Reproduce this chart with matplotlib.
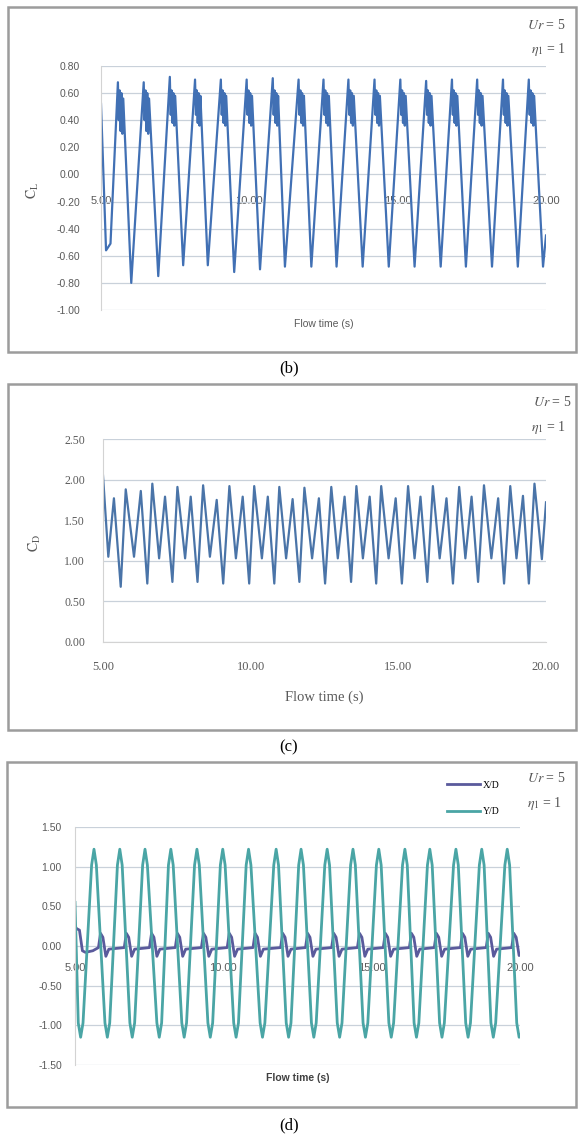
import numpy as np
import matplotlib.pyplot as plt
from matplotlib.patches import Rectangle

plt.rcParams['axes.unicode_minus'] = False
plt.rcParams['mathtext.fontset'] = 'stix'

# ---- (b) lift coefficient: turning points ----
cl_t = [5.00, 5.17, 5.32,
        5.57, 5.60, 5.63, 5.66, 5.69, 5.72, 5.75, 6.02,
        6.44, 6.47, 6.50, 6.53, 6.56, 6.59, 6.62, 6.93,
        7.32, 7.35, 7.38, 7.41, 7.44, 7.47, 7.50, 7.77,
        8.17, 8.20, 8.23, 8.26, 8.29, 8.32, 8.35, 8.60,
        9.04, 9.07, 9.10, 9.13, 9.16, 9.19, 9.22, 9.49,
        9.91, 9.94, 9.97, 10.00, 10.03, 10.06, 10.09, 10.36,
        10.79, 10.82, 10.85, 10.88, 10.91, 10.94, 10.97, 11.20,
        11.66, 11.69, 11.72, 11.75, 11.78, 11.81, 11.84, 12.09,
        12.50, 12.53, 12.56, 12.59, 12.62, 12.65, 12.68, 12.94,
        13.34, 13.37, 13.40, 13.43, 13.46, 13.49, 13.52, 13.82,
        14.22, 14.25, 14.28, 14.31, 14.34, 14.37, 14.40, 14.70,
        15.09, 15.12, 15.15, 15.18, 15.21, 15.24, 15.27, 15.57,
        15.96, 15.99, 16.02, 16.05, 16.08, 16.11, 16.14, 16.45,
        16.83, 16.86, 16.89, 16.92, 16.95, 16.98, 17.01, 17.30,
        17.68, 17.71, 17.74, 17.77, 17.80, 17.83, 17.86, 18.18,
        18.55, 18.58, 18.61, 18.64, 18.67, 18.70, 18.73, 19.05,
        19.42, 19.45, 19.48, 19.51, 19.54, 19.57, 19.60, 19.90,
        20.00]
cl_v = [0.52, -0.56, -0.51,
        0.68, 0.40, 0.62, 0.32, 0.60, 0.30, 0.56, -0.80,
        0.68, 0.40, 0.62, 0.32, 0.60, 0.30, 0.56, -0.75,
        0.72, 0.44, 0.62, 0.38, 0.60, 0.36, 0.58, -0.67,
        0.70, 0.44, 0.62, 0.38, 0.60, 0.36, 0.58, -0.67,
        0.70, 0.44, 0.62, 0.38, 0.60, 0.36, 0.58, -0.72,
        0.70, 0.44, 0.62, 0.38, 0.60, 0.36, 0.58, -0.70,
        0.71, 0.44, 0.62, 0.38, 0.60, 0.36, 0.58, -0.68,
        0.70, 0.44, 0.62, 0.38, 0.60, 0.36, 0.58, -0.68,
        0.70, 0.44, 0.62, 0.38, 0.60, 0.36, 0.58, -0.68,
        0.70, 0.44, 0.62, 0.38, 0.60, 0.36, 0.58, -0.68,
        0.70, 0.44, 0.62, 0.38, 0.60, 0.36, 0.58, -0.68,
        0.70, 0.44, 0.62, 0.38, 0.60, 0.36, 0.58, -0.68,
        0.69, 0.44, 0.62, 0.38, 0.60, 0.36, 0.58, -0.68,
        0.70, 0.44, 0.62, 0.38, 0.60, 0.36, 0.58, -0.68,
        0.70, 0.44, 0.62, 0.38, 0.60, 0.36, 0.58, -0.68,
        0.70, 0.44, 0.62, 0.38, 0.60, 0.36, 0.58, -0.68,
        0.70, 0.44, 0.62, 0.38, 0.60, 0.36, 0.58, -0.68,
        -0.45]

# ---- (c) drag coefficient ----
cd_t = [5.00, 5.18, 5.37, 5.60, 5.77, 6.05, 6.28, 6.50, 6.67, 6.90,
        7.10, 7.35, 7.52, 7.78, 7.97, 8.20, 8.39, 8.62, 8.85, 9.07,
        9.28, 9.50, 9.73, 9.95, 10.12, 10.38, 10.58, 10.80, 10.97, 11.20,
        11.42, 11.65, 11.82, 12.08, 12.31, 12.52, 12.73, 12.95, 13.18, 13.40,
        13.58, 13.80, 14.03, 14.25, 14.42, 14.67, 14.91, 15.12, 15.33, 15.55,
        15.75, 15.98, 16.17, 16.40, 16.63, 16.85, 17.06, 17.27, 17.48, 17.70,
        17.90, 18.15, 18.38, 18.58, 18.79, 19.00, 19.22, 19.42, 19.61, 19.86,
        20.00]
cd_v = [2.05, 1.05, 1.77, 0.68, 1.88, 1.05, 1.86, 0.72, 1.95, 1.03,
        1.79, 0.74, 1.91, 1.03, 1.79, 0.74, 1.93, 1.05, 1.75, 0.72,
        1.92, 1.03, 1.79, 0.72, 1.92, 1.03, 1.79, 0.72, 1.91, 1.03,
        1.76, 0.74, 1.90, 1.03, 1.77, 0.72, 1.91, 1.03, 1.79, 0.74,
        1.92, 1.03, 1.79, 0.72, 1.92, 1.03, 1.77, 0.72, 1.92, 1.03,
        1.79, 0.74, 1.92, 1.03, 1.77, 0.72, 1.91, 1.03, 1.79, 0.74,
        1.93, 1.03, 1.77, 0.72, 1.92, 1.03, 1.80, 0.72, 1.95, 1.02,
        1.72]

# ---- (d) displacements ----
yd_t = [5.00, 5.11, 5.19, 5.27, 5.56, 5.64, 5.72, 6.01, 6.09, 6.17,
        6.43, 6.51, 6.59, 6.85, 6.93, 7.01, 7.28, 7.36, 7.44, 7.76,
        7.84, 7.92, 8.15, 8.23, 8.31, 8.60, 8.68, 8.76, 9.03, 9.11,
        9.19, 9.48, 9.56, 9.64, 9.90, 9.98, 10.06, 10.35, 10.43, 10.51,
        10.77, 10.85, 10.93, 11.24, 11.32, 11.40, 11.70, 11.78, 11.86, 12.12,
        12.20, 12.28, 12.54, 12.62, 12.70, 12.97, 13.05, 13.13, 13.42, 13.50,
        13.58, 13.84, 13.92, 14.00, 14.29, 14.37, 14.45, 14.71, 14.79, 14.87,
        15.16, 15.24, 15.32, 15.58, 15.66, 15.74, 16.04, 16.12, 16.20, 16.43,
        16.51, 16.59, 16.88, 16.96, 17.04, 17.29, 17.37, 17.45, 17.76, 17.84,
        17.92, 18.17, 18.25, 18.33, 18.63, 18.71, 18.79, 19.02, 19.10, 19.18,
        19.49, 19.57, 19.65, 19.89, 19.97, 20.00]
yd_v = [0.55, -0.97, -1.15, -0.97, 1.02, 1.22, 1.02, -0.97, -1.15, -0.97,
        1.02, 1.22, 1.02, -0.97, -1.15, -0.97, 1.02, 1.22, 1.02, -0.97,
        -1.15, -0.97, 1.02, 1.22, 1.02, -0.97, -1.15, -0.97, 1.02, 1.22,
        1.02, -0.97, -1.15, -0.97, 1.02, 1.22, 1.02, -0.97, -1.15, -0.97,
        1.02, 1.22, 1.02, -0.97, -1.15, -0.97, 1.02, 1.22, 1.02, -0.97,
        -1.15, -0.97, 1.02, 1.22, 1.02, -0.97, -1.15, -0.97, 1.02, 1.22,
        1.02, -0.97, -1.15, -0.97, 1.02, 1.22, 1.02, -0.97, -1.15, -0.97,
        1.02, 1.22, 1.02, -0.97, -1.15, -0.97, 1.02, 1.22, 1.02, -0.97,
        -1.15, -0.97, 1.02, 1.22, 1.02, -0.97, -1.15, -0.97, 1.02, 1.22,
        1.02, -0.97, -1.15, -0.97, 1.02, 1.22, 1.02, -0.97, -1.15, -0.97,
        1.02, 1.22, 1.02, -0.97, -1.15, -1.13]

xd_t = [5.00, 5.05, 5.15, 5.25, 5.35, 5.60,
        5.79, 5.86, 5.94, 6.04, 6.14,
        6.66, 6.73, 6.81, 6.91, 7.01,
        7.51, 7.58, 7.66, 7.76, 7.86,
        8.38, 8.45, 8.53, 8.63, 8.73,
        9.26, 9.33, 9.41, 9.51, 9.61,
        10.13, 10.20, 10.28, 10.38, 10.48,
        11.00, 11.07, 11.15, 11.25, 11.35,
        11.93, 12.00, 12.08, 12.18, 12.28,
        12.77, 12.84, 12.92, 13.02, 13.12,
        13.65, 13.72, 13.80, 13.90, 14.00,
        14.52, 14.59, 14.67, 14.77, 14.87,
        15.39, 15.46, 15.54, 15.64, 15.74,
        16.27, 16.34, 16.42, 16.52, 16.62,
        17.11, 17.18, 17.26, 17.36, 17.46,
        17.99, 18.06, 18.14, 18.24, 18.34,
        18.86, 18.93, 19.01, 19.11, 19.21,
        19.72, 19.79, 19.87, 19.97, 20.00]
xd_v = [0.25, 0.22, 0.20, -0.06, -0.08, -0.06,
        -0.02, 0.16, 0.11, -0.13, -0.04,
        -0.02, 0.16, 0.11, -0.13, -0.04,
        -0.02, 0.16, 0.11, -0.13, -0.04,
        -0.02, 0.16, 0.11, -0.13, -0.04,
        -0.02, 0.16, 0.11, -0.13, -0.04,
        -0.02, 0.16, 0.11, -0.13, -0.04,
        -0.02, 0.16, 0.11, -0.13, -0.04,
        -0.02, 0.16, 0.11, -0.13, -0.04,
        -0.02, 0.16, 0.11, -0.13, -0.04,
        -0.02, 0.16, 0.11, -0.13, -0.04,
        -0.02, 0.16, 0.11, -0.13, -0.04,
        -0.02, 0.16, 0.11, -0.13, -0.04,
        -0.02, 0.16, 0.11, -0.13, -0.04,
        -0.02, 0.16, 0.11, -0.13, -0.04,
        -0.02, 0.16, 0.11, -0.13, -0.04,
        -0.02, 0.16, 0.11, -0.13, -0.04,
        -0.02, 0.16, 0.11, -0.12, -0.10]

x_ticks = [5, 10, 15, 20]
x_labels = ['5.00', '10.00', '15.00', '20.00']
b_yticks = [0.8, 0.6, 0.4, 0.2, 0.0, -0.2, -0.4, -0.6, -0.8, -1.0]
c_yticks = [2.5, 2.0, 1.5, 1.0, 0.5, 0.0]
d_yticks = [1.5, 1.0, 0.5, 0.0, -0.5, -1.0, -1.5]

W, H = 578, 1137


def box(x0, y0, x1, y1):
    return [x0 / W, 1 - y1 / H, (x1 - x0) / W, (y1 - y0) / H]


def frame(x0, y0, x1, y1):
    fig.add_artist(Rectangle((x0 / W, 1 - y1 / H), (x1 - x0) / W, (y1 - y0) / H,
                             transform=fig.transFigure, fill=False,
                             ec='#9c9c9c', lw=1.8))


def style(ax, yticks, family, size, ypad, xpad, zero_axis):
    # moving the spine resets the ticks, so do it first
    if zero_axis:
        ax.spines['bottom'].set_position(('data', 0))
        ax.spines['bottom'].set_visible(False)
    else:
        ax.spines['bottom'].set_color('#d3d3d3')
    ax.set_xlim(5, 20)
    ax.set_xticks(x_ticks)
    ax.set_xticklabels(x_labels, family=family, fontsize=size + 0.5)
    ax.set_yticks(yticks)
    ax.set_yticklabels(['%.2f' % v for v in yticks], family=family, fontsize=size)
    ax.grid(axis='y', color='#c9d1da', lw=0.9)
    ax.set_axisbelow(True)
    for s in ['top', 'right']:
        ax.spines[s].set_visible(False)
    ax.spines['left'].set_color('#d3d3d3')
    ax.tick_params(length=0, labelcolor='#5a5a5a')
    ax.tick_params(axis='y', pad=ypad)
    ax.tick_params(axis='x', pad=xpad)


fig = plt.figure(figsize=(W / 100, H / 100), dpi=100)

# ---------------- (b) ----------------
frame(8, 7, 576, 352)
ax1 = fig.add_axes(box(101, 66, 546, 310))
ax1.plot(cl_t, cl_v, color='#4170b4', lw=1.6)
ax1.set_ylim(-1.0, 0.8)
style(ax1, b_yticks, 'Liberation Sans', 7.5, 15, 15.5, True)
ax1.set_xlabel('Flow time (s)', fontsize=7.5, family='Liberation Sans', color='#5a5a5a')
ax1.xaxis.set_label_coords(0.5, -0.035)
fig.text(33 / W, 1 - 190 / H, r'$\mathrm{C_L}$', rotation=90, ha='center', va='center',
         fontsize=10, color='#5a5a5a')
fig.text(566 / W, 1 - 25 / H, r'$Ur$ = 5', ha='right', va='center',
         family='Liberation Serif', fontsize=10, color='#555555')
fig.text(566 / W, 1 - 49 / H, r'$\eta_1$ = 1', ha='right', va='center',
         family='Liberation Serif', fontsize=10, color='#555555')
fig.text(289 / W, 1 - 368 / H, '(b)', ha='center', va='center',
         family='Liberation Serif', fontsize=12)

# ---------------- (c) ----------------
frame(8, 384, 576, 730)
ax2 = fig.add_axes(box(103, 439, 546, 642))
ax2.plot(cd_t, cd_v, color='#4a74a8', lw=1.6)
ax2.set_ylim(0, 2.5)
style(ax2, c_yticks, 'Liberation Serif', 8.5, 13, 13.5, False)
ax2.set_xlabel('Flow time (s)', fontsize=10.5, family='Liberation Serif', color='#5a5a5a')
ax2.xaxis.set_label_coords(0.5, -0.24)
fig.text(35 / W, 1 - 543 / H, r'$\mathrm{C_D}$', rotation=90, ha='center', va='center',
         fontsize=10, color='#5a5a5a')
fig.text(572 / W, 1 - 402 / H, r'$Ur$ = 5', ha='right', va='center',
         family='Liberation Serif', fontsize=10, color='#555555')
fig.text(566 / W, 1 - 427 / H, r'$\eta_1$ = 1', ha='right', va='center',
         family='Liberation Serif', fontsize=10, color='#555555')
fig.text(289 / W, 1 - 747 / H, '(c)', ha='center', va='center',
         family='Liberation Serif', fontsize=12)

# ---------------- (d) ----------------
frame(7, 762, 576, 1107)
ax3 = fig.add_axes(box(75, 827, 520, 1065))
ax3.plot(xd_t, xd_v, color='#5a5a9c', lw=2.0, label='X/D')
ax3.plot(yd_t, yd_v, color='#4aa5a5', lw=2.0, label='Y/D')
ax3.set_ylim(-1.5, 1.5)
style(ax3, d_yticks, 'Liberation Sans', 7.5, 9.5, 12.5, True)
ax3.set_xlabel('Flow time (s)', fontsize=7.5, family='Liberation Sans', color='#404040',
               fontweight='bold')
ax3.xaxis.set_label_coords(0.5, -0.035)
ax3.legend(loc='upper left', bbox_to_anchor=(442 / W, 1 - 776 / H),
           bbox_transform=fig.transFigure, frameon=False, borderpad=0,
           handlelength=3.4, handletextpad=0.3, labelspacing=1.8,
           prop={'family': 'Liberation Serif', 'size': 7})
fig.text(566 / W, 1 - 778 / H, r'$Ur$ = 5', ha='right', va='center',
         family='Liberation Serif', fontsize=10, color='#555555')
fig.text(562 / W, 1 - 803 / H, r'$\eta_1$ = 1', ha='right', va='center',
         family='Liberation Serif', fontsize=10, color='#555555')
fig.text(289 / W, 1 - 1125 / H, '(d)', ha='center', va='center',
         family='Liberation Serif', fontsize=12)

fig.savefig('out.png', dpi=100)
